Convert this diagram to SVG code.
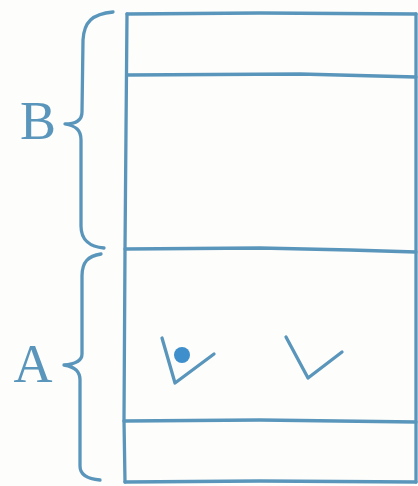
<svg xmlns="http://www.w3.org/2000/svg" width="418" height="486" viewBox="0 0 418 486">
<style>
.ln{fill:none;stroke:#5a96bb;stroke-width:3.3;stroke-linecap:round;stroke-linejoin:round}
.lbl{font-family:"Liberation Serif",serif;font-size:54px;fill:#5a96bb}
</style>
<rect width="418" height="486" fill="#fdfdfb"/>
<g id="frame">
<path class="ln" d="M127,14 L260,13 L416,14"/>
<path class="ln" d="M127,14 L126,130 L125,250 L124,420 L125,482"/>
<path class="ln" d="M416,14 L416,250 L416,482"/>
<path class="ln" d="M127,75 L300,74 L416,77"/>
<path class="ln" d="M125,249 L260,248 L350,250 L416,252"/>
<path class="ln" d="M124,421 L260,420 L416,422"/>
<path class="ln" d="M125,482 L260,481 L416,482"/>
</g>
<g id="brace-B">
<path class="ln" d="M113,12 C92,14 84,22 83,40 L82,112 C82,120 76,124 65,124 C76,126 81,130 81,140 L81,226 C81,240 90,247 104,248"/>
</g>
<g id="brace-A">
<path class="ln" d="M101,254 C88,256 82,262 82,276 L82,354 C82,360 76,364 64,365 C76,367 80,372 80,380 L80,466 C80,475 88,479 100,480"/>
</g>
<g id="labels">
<text class="lbl" x="38" y="139" text-anchor="middle">B</text>
<text class="lbl" x="33" y="382" text-anchor="middle">A</text>
</g>
<g id="checks">
<path class="ln" d="M162,338 L175,383 L214,354"/>
<circle cx="182" cy="355" r="8" fill="#3f8fcc"/>
<path class="ln" d="M286,337 L308,378 L342,352"/>
</g>
</svg>
